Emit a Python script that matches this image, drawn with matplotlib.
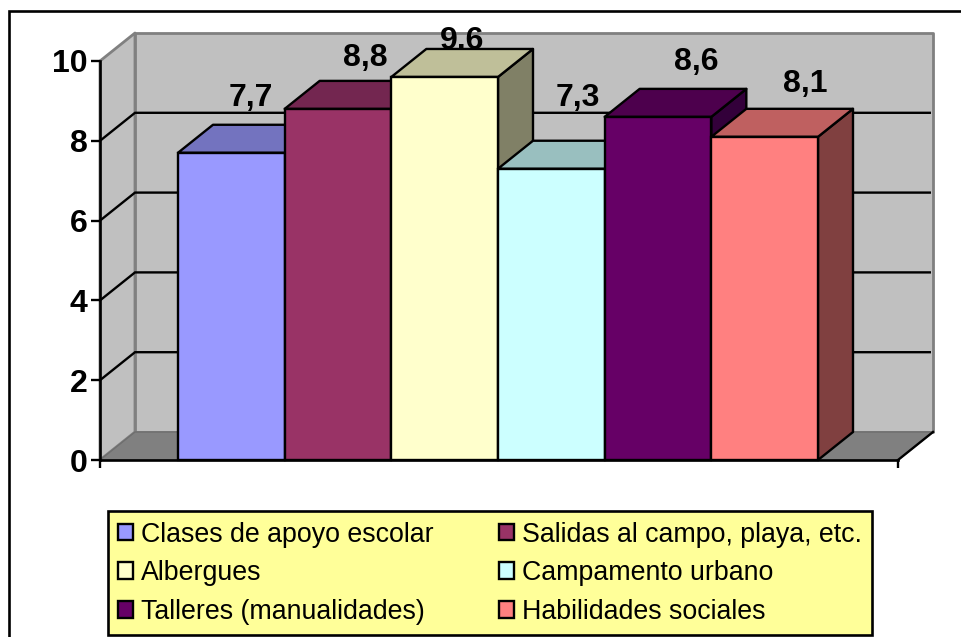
import numpy as np
import matplotlib
matplotlib.use('Agg')
import matplotlib.pyplot as plt
from matplotlib.patches import Polygon, Patch, Rectangle

plt.rcParams['font.family'] = ['Liberation Sans', 'DejaVu Sans']

categories = ['Clases de apoyo escolar', 'Salidas al campo, playa, etc.', 'Albergues',
              'Campamento urbano', 'Talleres (manualidades)', 'Habilidades sociales']
values = [7.7, 8.8, 9.6, 7.3, 8.6, 8.1]
labels = ['7,7', '8,8', '9,6', '7,3', '8,6', '8,1']
front_colors = ['#9999FF', '#993366', '#FFFFCC', '#CCFFFF', '#660066', '#FF8080']
top_colors = ['#7373BF', '#732650', '#BFBF99', '#99BFBF', '#4D004D', '#BF6060']
side_colors = ['#737373', '#4D1A33', '#808066', '#668080', '#33003A', '#804040']
yticks = [0, 2, 4, 6, 8, 10]
# label offset from the top of each bar's front, in pixels
label_off = [(19, 55), (27, 51), (17, 36), (26, 71), (38, 55), (41, 53)]

W, H = 961, 637
fig = plt.figure(figsize=(W / 100, H / 100), dpi=100)
fig.add_artist(Rectangle((9 / W, -0.1), 1.1, 0.1 + (H - 11) / H, transform=fig.transFigure,
                         fc='white', ec='black', lw=1.9, zorder=-1))
ax = fig.add_axes([100 / W, (H - 460) / H, 798 / W, 399 / H])
ax.patch.set_visible(False)

xl = -0.5 - 78 / (640 / 6)
xr = xl + 798 / (640 / 6)
ax.set_xlim(xl, xr)
ax.set_ylim(0, 10)
dx = 35 / (640 / 6)
dy = 28 / 39.9


def poly(pts, fc, ec='black', lw=1.7, z=1):
    ax.add_patch(Polygon(pts, closed=True, fc=fc, ec=ec, lw=lw, zorder=z, clip_on=False, joinstyle='round'))


# walls and floor
poly([(xl, 0), (xl + dx, dy), (xl + dx, 10 + dy), (xl, 10)], '#C0C0C0', '#808080', 2.0, 1)
poly([(xl + dx, dy), (xr + dx, dy), (xr + dx, 10 + dy), (xl + dx, 10 + dy)], '#C0C0C0', '#808080', 2.0, 1)
poly([(xl, 0), (xl + dx, dy), (xr + dx, dy), (xr, 0)], '#808080', '#6E6E6E', 1.0, 1.5)
ax.plot([xr, xr + dx], [0, dy], color='black', lw=1.7, zorder=2, clip_on=False)

# gridlines
for t in yticks[1:-1]:
    ax.plot([xl, xl + dx, xr + dx - 0.03], [t, t + dy, t + dy], color='black', lw=1.7, zorder=2,
            clip_on=False, solid_joinstyle='miter')

# data labels sit behind the bars
for i, v in enumerate(values):
    ax.annotate(labels[i], xy=(i, v), xytext=label_off[i], textcoords='offset pixels', ha='center',
                va='center', fontsize=23, fontweight='bold', color='black', zorder=3, annotation_clip=False)

# bars, left to right
for i, v in enumerate(values):
    x0, x1 = i - 0.5, i + 0.5
    z = 4 + i
    poly([(x1, 0), (x1 + dx, dy), (x1 + dx, v + dy), (x1, v)], side_colors[i], z=z)
    poly([(x0, v), (x0 + dx, v + dy), (x1 + dx, v + dy), (x1, v)], top_colors[i], z=z)
    ax.bar(i, v, width=1, color=front_colors[i], edgecolor='black', linewidth=1.7, zorder=z, clip_on=False)

# axes
for s in ['top', 'right']:
    ax.spines[s].set_visible(False)
for s in ['left', 'bottom']:
    ax.spines[s].set_linewidth(1.9)
    ax.spines[s].set_zorder(12)
ax.set_yticks(yticks)
ax.set_xticks([xl, xr])
ax.set_xticklabels([])
ax.tick_params(axis='y', length=6.5, width=1.7, pad=2.5, labelsize=23)
ax.tick_params(axis='x', length=5.5, width=1.7)
for lab in ax.get_yticklabels():
    lab.set_fontweight('bold')

# legend is filled by column, so reorder the entries
handles = [Patch(fc=front_colors[i], ec='black', lw=1.7, label=categories[i]) for i in [0, 2, 4, 1, 3, 5]]
fig.legend(handles=handles, ncol=2, loc='lower left', bbox_to_anchor=(108 / W, (H - 635) / H),
           borderaxespad=0, fontsize=19.3, fancybox=False, framealpha=1, facecolor='#FFFF99',
           edgecolor='black', handlelength=0.57, handleheight=0.57, handletextpad=0.27,
           columnspacing=2.45, labelspacing=0.47, borderpad=0.38).get_frame().set_linewidth(1.9)

fig.savefig('out.png', dpi=100)
